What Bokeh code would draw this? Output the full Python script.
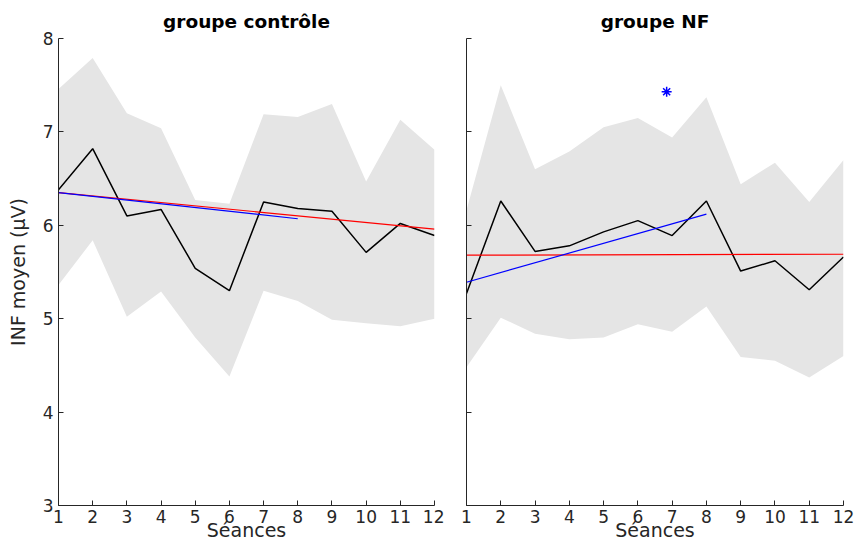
from bokeh.plotting import figure
from bokeh.layouts import row
from bokeh.models import FixedTicker, Range1d
from bokeh.embed import file_html
from bokeh.resources import INLINE

sessions = list(range(1, 13))

ctrl_mean = [6.38, 6.82, 6.10, 6.17, 5.54, 5.30, 6.25, 6.18, 6.15, 5.71, 6.02, 5.89]
ctrl_upper = [7.46, 7.79, 7.20, 7.04, 6.27, 6.23, 7.19, 7.16, 7.30, 6.47, 7.13, 6.81]
ctrl_lower = [5.36, 5.84, 5.02, 5.29, 4.80, 4.38, 5.30, 5.19, 4.99, 4.95, 4.92, 5.00]

nf_mean = [5.27, 6.26, 5.72, 5.78, 5.93, 6.05, 5.89, 6.26, 5.51, 5.62, 5.31, 5.66]
nf_upper = [6.16, 7.50, 6.60, 6.79, 7.05, 7.15, 6.94, 7.37, 6.44, 6.67, 6.25, 6.70]
nf_lower = [4.48, 5.01, 4.84, 4.78, 4.80, 4.94, 4.86, 5.13, 4.59, 4.55, 4.37, 4.60]

trend_all_x = [1, 12]
trend_first_x = [1, 8]
ctrl_trend_all = [6.35, 5.96]
ctrl_trend_first = [6.35, 6.07]
nf_trend_all = [5.68, 5.69]
nf_trend_first = [5.39, 6.12]

star_x = [6.84]
star_y = [7.43]

x_ticks = list(range(1, 13))
y_ticks = [3, 4, 5, 6, 7, 8]

FONT = "DejaVu Sans"
AX = "#262626"


def make(title, mean, upper, lower, tr_all, tr_first, width, left, right, show_ylabels):
    p = figure(width=width, height=543, output_backend="svg", toolbar_location=None,
               x_range=Range1d(1, 12), y_range=Range1d(3, 8),
               min_border_left=left, min_border_right=right, min_border_top=38,
               min_border_bottom=38)
    p.title.text = title
    p.title.text_font = FONT
    p.title.text_font_size = "18.5px"
    p.title.text_font_style = "bold"
    p.title.text_color = "black"
    p.title.align = "center"
    p.title.standoff = 13
    p.outline_line_color = None
    p.xgrid.visible = False
    p.ygrid.visible = False

    p.varea(x=sessions, y1=lower, y2=upper, fill_color="#e5e5e5")
    p.line(sessions, mean, line_color="black", line_width=1.5)
    p.line(trend_all_x, tr_all, line_color="#ff0000", line_width=1.2)
    p.line(trend_first_x, tr_first, line_color="#0000ff", line_width=1.2)

    for ax in (p.xaxis[0], p.yaxis[0]):
        ax.axis_line_color = AX
        ax.major_tick_line_color = AX
        ax.major_tick_in = 5
        ax.major_tick_out = 0
        ax.minor_tick_line_color = None
        ax.major_label_text_font = FONT
        ax.major_label_text_font_size = "17px"
        ax.major_label_text_color = AX
        ax.axis_label_text_font = FONT
        ax.axis_label_text_font_size = "19px"
        ax.axis_label_text_font_style = "normal"
        ax.axis_label_text_color = AX
    p.xaxis.ticker = FixedTicker(ticks=x_ticks)
    p.yaxis.ticker = FixedTicker(ticks=y_ticks)
    p.xaxis.major_label_standoff = 4
    p.xaxis.axis_label = "Séances"
    p.xaxis.axis_label_standoff = -7
    p.yaxis.major_label_standoff = 5
    if show_ylabels:
        p.yaxis.axis_label = "INF moyen (µV)"
        p.yaxis.axis_label_standoff = 11
    else:
        p.yaxis.major_label_overrides = {t: "" for t in y_ticks}
    return p


p1 = make("groupe contrôle", ctrl_mean, ctrl_upper, ctrl_lower,
          ctrl_trend_all, ctrl_trend_first, 444, 58, 10, True)
p2 = make("groupe NF", nf_mean, nf_upper, nf_lower,
          nf_trend_all, nf_trend_first, 417, 22, 18, False)
p2.scatter(star_x, star_y, marker="asterisk", size=10, line_color="#0000ff", line_width=1.5)

layout = row(p1, p2)
open("out.html", "w").write(file_html(layout, INLINE))
